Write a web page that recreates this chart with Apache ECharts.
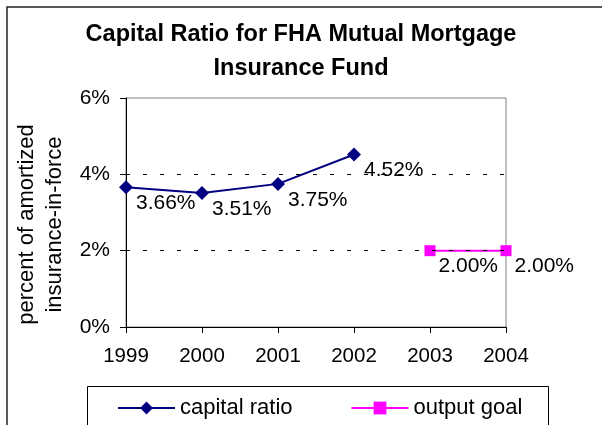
<!DOCTYPE html>
<html>
<head>
<meta charset="utf-8">
<script src="https://cdn.jsdelivr.net/npm/echarts@6/dist/echarts.min.js"></script>
<style>
  html, body { margin: 0; padding: 0; background: #fff; }
  #capitalRatio { width: 602px; height: 425px; }
</style>
</head>
<body>
<div id="capitalRatio"></div>
<script>
// data
var years = ['1999', '2000', '2001', '2002', '2003', '2004'];
var capitalRatio = [3.66, 3.51, 3.75, 4.52, null, null];
var outputGoal = [null, null, null, null, 2.00, 2.00];
var yTicks = [0, 2, 4, 6];
var dashedLevels = [2, 4];

var chart = echarts.init(document.getElementById('capitalRatio'));

var font = 'Liberation Sans, Arial, sans-serif';

var labelStyle = {
    show: true,
    position: 'right',
    distance: 3,
    offset: [0, 16],
    color: '#000',
    fontSize: 21,
    fontFamily: font,
    formatter: function (p) { return p.value.toFixed(2) + '%'; }
};

var option = {
    backgroundColor: '#fff',
    animation: false,
    title: {
        text: 'Capital Ratio for FHA Mutual Mortgage\nInsurance Fund',
        left: 'center',
        top: 13,
        textStyle: {
            color: '#000',
            fontSize: 23.5,
            fontWeight: 'bold',
            fontFamily: font,
            lineHeight: 34
        }
    },
    graphic: [{
        // outer chart frame
        type: 'rect',
        shape: { x: 7, y: 7, width: 620, height: 440 },
        style: { fill: 'none', stroke: '#222', lineWidth: 1.5 },
        silent: true
    }, {
        // legend frame
        type: 'rect',
        shape: { x: 87.5, y: 386.5, width: 461, height: 60 },
        style: { fill: 'none', stroke: '#000', lineWidth: 1 },
        silent: true
    }],
    legend: {
        data: ['capital ratio', 'output goal'],
        left: 117,
        top: 397,
        padding: 0,
        itemWidth: 57,
        itemHeight: 16,
        itemGap: 58,
        textStyle: {
            color: '#000',
            fontSize: 22,
            fontFamily: font
        }
    },
    grid: {
        left: 126,
        right: 96,
        top: 98,
        bottom: 98,
        show: true,
        borderColor: '#808080',
        borderWidth: 1
    },
    xAxis: {
        type: 'category',
        data: years,
        boundaryGap: false,
        axisLine: { lineStyle: { color: '#000', width: 1 } },
        axisTick: { show: true, length: 6, lineStyle: { color: '#000' } },
        axisLabel: {
            color: '#000',
            fontSize: 20.5,
            fontFamily: font,
            margin: 19
        },
        splitLine: { show: false }
    },
    yAxis: {
        type: 'value',
        min: yTicks[0],
        max: yTicks[yTicks.length - 1],
        interval: 2,
        name: 'percent of amortized\ninsurance-in-force',
        nameLocation: 'middle',
        nameGap: 54,
        nameTextStyle: {
            color: '#000',
            fontSize: 22,
            fontFamily: font,
            lineHeight: 28,
            padding: [0, 24, 0, 0]
        },
        axisLine: { show: true, lineStyle: { color: '#000', width: 1 } },
        axisTick: { show: true, length: 6, lineStyle: { color: '#000' } },
        axisLabel: {
            color: '#000',
            fontSize: 21,
            fontFamily: font,
            margin: 16,
            formatter: '{value}%'
        },
        splitLine: { show: false }
    },
    series: [{
        name: 'capital ratio',
        type: 'line',
        data: capitalRatio,
        symbol: 'diamond',
        symbolSize: 14,
        lineStyle: { color: '#000080', width: 2 },
        itemStyle: { color: '#000080' },
        label: labelStyle,
        z: 3,
        // dashed gridlines at 2% and 4%
        markLine: {
            silent: true,
            symbol: 'none',
            label: { show: false },
            lineStyle: { color: '#000', type: [4, 13], width: 1 },
            data: dashedLevels.map(function (v) { return { yAxis: v }; })
        }
    }, {
        name: 'output goal',
        type: 'line',
        data: outputGoal,
        symbol: 'rect',
        symbolSize: 11,
        lineStyle: { color: '#FF00FF', width: 2 },
        itemStyle: { color: '#FF00FF' },
        label: labelStyle,
        z: 3
    }]
};

chart.setOption(option);
</script>
</body>
</html>
